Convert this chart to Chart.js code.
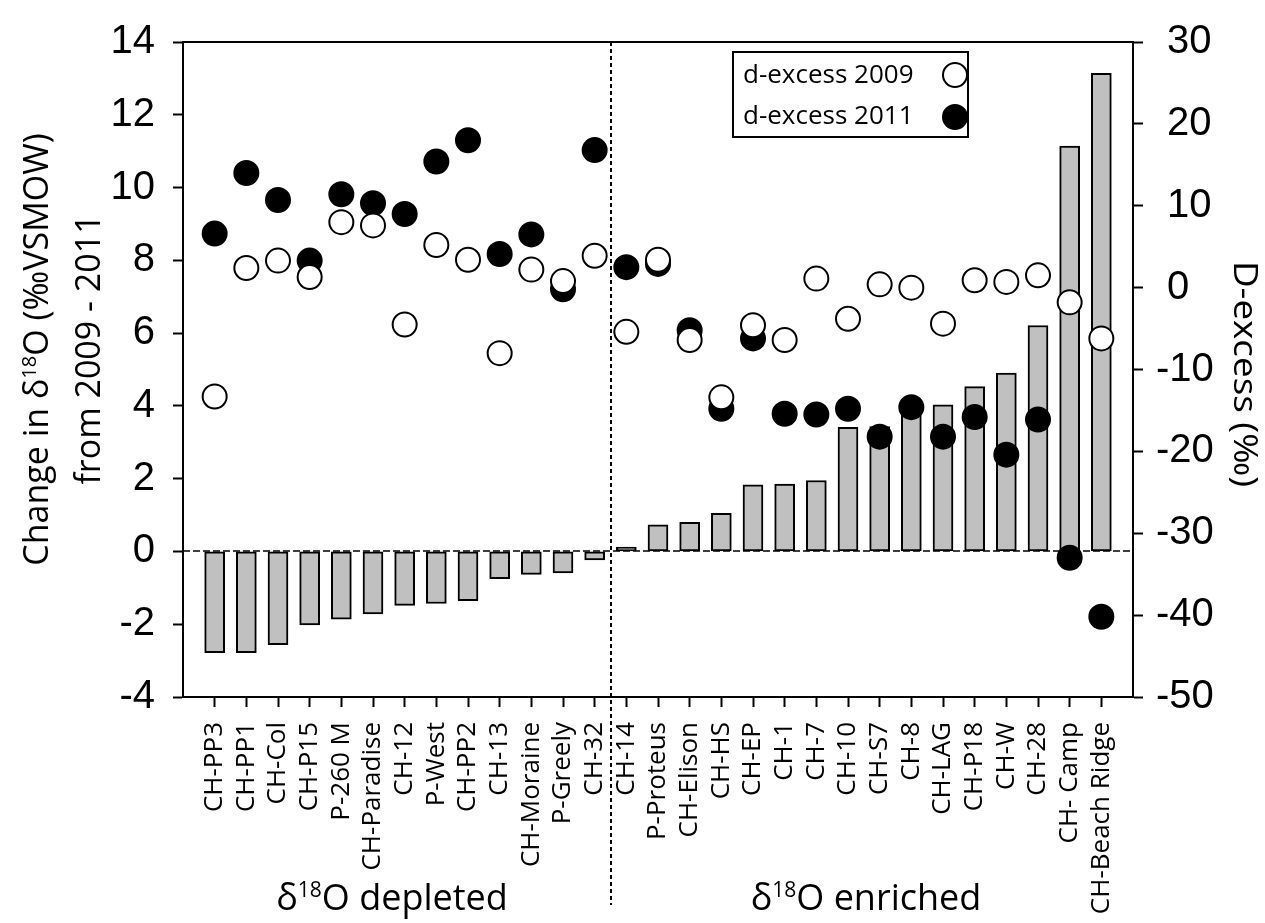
<!DOCTYPE html>
<html>
<head>
<meta charset="utf-8">
<script src="https://cdn.jsdelivr.net/npm/chart.js@4.4.1/dist/chart.umd.min.js"></script>
<style>
  html, body { margin: 0; padding: 0; background: #fff; }
  #wrap { width: 1265px; height: 923px; }
</style>
</head>
<body>
<div id="wrap"><canvas id="isoChart" width="1265" height="923"></canvas></div>
<script>
// sites, ordered by change in d18O
const categories = ['CH-PP3', 'CH-PP1', 'CH-Col', 'CH-P15', 'P-260 M', 'CH-Paradise', 'CH-12', 'P-West',
  'CH-PP2', 'CH-13', 'CH-Moraine', 'P-Greely', 'CH-32', 'CH-14', 'P-Proteus', 'CH-Elison', 'CH-HS',
  'CH-EP', 'CH-1', 'CH-7', 'CH-10', 'CH-S7', 'CH-8', 'CH-LAG', 'CH-P18', 'CH-W', 'CH-28', 'CH- Camp',
  'CH-Beach Ridge'];
const d18OChange = [-2.78, -2.78, -2.56, -2.02, -1.86, -1.72, -1.48, -1.43, -1.35, -0.75, -0.63, -0.59, -0.23,
  0.12, 0.73, 0.8, 1.05, 1.83, 1.85, 1.95, 3.41, 3.43, 3.79, 4.03, 4.53, 4.9, 6.21, 11.14, 13.14];
const dExcess2009 = [-13.3, 2.4, 3.3, 1.3, 8.0, 7.6, -4.5, 5.2, 3.4, -8.0, 2.2, 0.8, 3.9,
  -5.4, 3.4, -6.4, -13.4, -4.6, -6.4, 1.1, -3.8, 0.4, 0.0, -4.4, 0.9, 0.7, 1.5, -1.8, -6.2];
const dExcess2011 = [6.6, 14.0, 10.7, 3.3, 11.4, 10.3, 9.0, 15.4, 18.0, 4.1, 6.5, -0.2, 16.8,
  2.5, 2.9, -5.2, -14.8, -6.2, -15.4, -15.5, -14.8, -18.2, -14.6, -18.2, -15.8, -20.4, -16.1, -33.0, -40.2];
const leftTicks = [-4, -2, 0, 2, 4, 6, 8, 10, 12, 14];
const rightTicks = [-50, -40, -30, -20, -10, 0, 10, 20, 30];
const groupNames = ['depleted', 'enriched'];
const depletedCount = 13;

// one empty slot on each side so the first/last site sit a full step in from the axes
const xLabels = ['', ...categories, ''];
const pad = (arr) => [null, ...arr, null];

const SANS = '"Open Sans", "Noto Sans", sans-serif';
const ARIAL = '"Liberation Sans", Arial, sans-serif';

function drawRich(ctx, parts, x, y, size) {
  const main = size + 'px ' + SANS;
  const sup = Math.round(size * 0.58) + 'px ' + SANS;
  let total = 0;
  parts.forEach(([t, s]) => { ctx.font = s ? sup : main; total += ctx.measureText(t).width; });
  let cx = x - total / 2;
  ctx.textAlign = 'left';
  ctx.textBaseline = 'alphabetic';
  parts.forEach(([t, s]) => {
    ctx.font = s ? sup : main;
    ctx.fillText(t, cx, s ? y - size * 0.36 : y);
    cx += ctx.measureText(t).width;
  });
}

const decor = {
  id: 'decor',
  beforeDatasetsDraw(chart) {
    const { ctx, chartArea } = chart;
    const y0 = Math.round(chart.scales.y.getPixelForValue(0));
    ctx.save();
    ctx.strokeStyle = '#000';
    ctx.lineWidth = 1.5;
    ctx.setLineDash([7, 3]);
    ctx.beginPath();
    ctx.moveTo(chartArea.left, y0);
    ctx.lineTo(chartArea.right, y0);
    ctx.stroke();
    ctx.restore();
  },
  afterDraw(chart) {
    const { ctx, chartArea } = chart;
    const xs = chart.scales.x;
    ctx.save();
    ctx.strokeStyle = '#000';
    ctx.fillStyle = '#000';

    // top frame
    ctx.lineWidth = 2;
    ctx.beginPath();
    ctx.moveTo(chartArea.left, chartArea.top);
    ctx.lineTo(chartArea.right, chartArea.top);
    ctx.stroke();

    // divider between depleted and enriched sites
    const xDiv = Math.round((xs.getPixelForValue(depletedCount) + xs.getPixelForValue(depletedCount + 1)) / 2);
    ctx.setLineDash([4, 3]);
    ctx.beginPath();
    ctx.moveTo(xDiv, chartArea.top);
    ctx.lineTo(xDiv, 905);
    ctx.stroke();
    ctx.setLineDash([]);

    // group labels
    drawRich(ctx, [['δ', false], ['18', true], ['O ' + groupNames[0], false]], 392, 910, 36);
    drawRich(ctx, [['δ', false], ['18', true], ['O ' + groupNames[1], false]], 866, 910, 36);

    // left axis title
    const cy = (chartArea.top + chartArea.bottom) / 2 - 20;
    ctx.save();
    ctx.translate(48, cy);
    ctx.rotate(-Math.PI / 2);
    drawRich(ctx, [['Change in δ', false], ['18', true], ['O (‰VSMOW)', false]], 0, 0, 34);
    ctx.restore();
    ctx.save();
    ctx.translate(100, cy);
    ctx.rotate(-Math.PI / 2);
    drawRich(ctx, [['from 2009 - 2011', false]], 0, 0, 34);
    ctx.restore();

    // right axis title
    ctx.save();
    ctx.translate(1234, 374);
    ctx.rotate(Math.PI / 2);
    ctx.scale(1.15, 1);
    drawRich(ctx, [['D-excess (‰)', false]], 0, 0, 32);
    ctx.restore();

    // legend
    ctx.lineWidth = 2;
    ctx.strokeRect(733, 52, 235, 85);
    const items = [chart.data.datasets[1], chart.data.datasets[2]];
    items.forEach((ds, i) => {
      const ty = 83 + i * 41;
      ctx.font = '26px ' + SANS;
      ctx.textAlign = 'left';
      ctx.textBaseline = 'alphabetic';
      ctx.fillStyle = '#000';
      ctx.fillText(ds.label, 743, ty);
      ctx.beginPath();
      ctx.arc(955, 75 + i * 42, 12, 0, Math.PI * 2);
      ctx.fillStyle = ds.pointBackgroundColor;
      ctx.fill();
      ctx.lineWidth = 2;
      ctx.strokeStyle = '#000';
      ctx.stroke();
    });
    ctx.restore();
  }
};

const tickGrid = { drawOnChartArea: false, drawTicks: true, tickLength: 10, tickWidth: 2, tickColor: '#000' };

new Chart(document.getElementById('isoChart'), {
  type: 'bar',
  data: {
    labels: xLabels,
    datasets: [
      {
        label: 'd18O change',
        data: pad(d18OChange),
        backgroundColor: '#c0c0c0',
        borderColor: '#000',
        borderWidth: 2,
        borderSkipped: false,
        barThickness: 20,
        yAxisID: 'y',
        order: 2
      },
      {
        type: 'line',
        label: 'd-excess 2009',
        data: pad(dExcess2009),
        showLine: false,
        pointRadius: 12,
        pointBorderWidth: 2,
        pointBackgroundColor: '#fff',
        pointBorderColor: '#000',
        yAxisID: 'y1',
        order: 0
      },
      {
        type: 'line',
        label: 'd-excess 2011',
        data: pad(dExcess2011),
        showLine: false,
        pointRadius: 12,
        pointBorderWidth: 2,
        pointBackgroundColor: '#000',
        pointBorderColor: '#000',
        yAxisID: 'y1',
        order: 1
      }
    ]
  },
  options: {
    responsive: false,
    animation: false,
    events: [],
    layout: { padding: { top: 33, left: 0, right: 0, bottom: 0 } },
    plugins: { legend: { display: false }, tooltip: { enabled: false } },
    scales: {
      x: {
        type: 'category',
        offset: false,
        grid: {
          ...tickGrid,
          offset: false,
          tickColor: (c) => (c.index === 0 || c.index === xLabels.length - 1) ? 'rgba(0,0,0,0)' : '#000'
        },
        border: { display: true, color: '#000', width: 2 },
        ticks: {
          autoSkip: false,
          minRotation: 90,
          maxRotation: 90,
          padding: 15,
          color: '#000',
          font: { family: SANS, size: 26 }
        },
        afterFit: (s) => { s.height = 226; }
      },
      y: {
        position: 'left',
        min: leftTicks[0],
        max: leftTicks[leftTicks.length - 1],
        grid: tickGrid,
        border: { display: true, color: '#000', width: 2 },
        ticks: {
          stepSize: leftTicks[1] - leftTicks[0],
          padding: 18,
          color: '#000',
          font: { family: ARIAL, size: 40 }
        },
        afterFit: (s) => { s.width = 183; }
      },
      y1: {
        position: 'right',
        min: rightTicks[0],
        max: rightTicks[rightTicks.length - 1],
        grid: tickGrid,
        border: { display: true, color: '#000', width: 2 },
        ticks: {
          stepSize: rightTicks[1] - rightTicks[0],
          padding: 13,
          color: '#000',
          font: { family: ARIAL, size: 40 },
          callback: (v) => (v >= 0 ? ' ' + v : String(v))
        },
        afterFit: (s) => { s.width = 132; }
      }
    }
  },
  plugins: [decor]
});
</script>
</body>
</html>
